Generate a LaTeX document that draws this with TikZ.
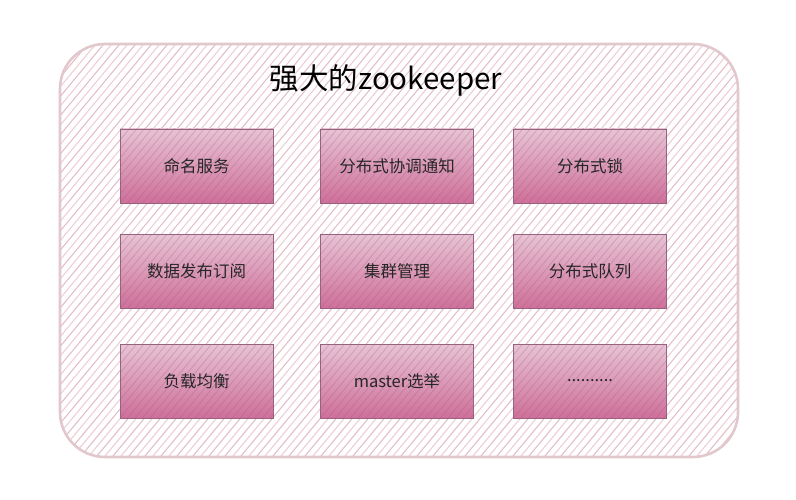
\documentclass[tikz,border=0pt]{standalone}
\usepackage{fontspec}
\setmainfont{Noto Sans CJK SC}
\usetikzlibrary{calc}
\definecolor{hatchA}{RGB}{236,204,212}
\definecolor{hatchB}{RGB}{226,186,198}
\definecolor{outerline}{RGB}{226,200,204}
\definecolor{boxline}{RGB}{150,98,128}
\definecolor{boxtop}{RGB}{230,196,212}
\definecolor{boxbot}{RGB}{206,112,154}
\definecolor{boxhatchc}{RGB}{180,80,125}
\tikzset{
  hatch/.style={line width=1pt},
  boxhatch/.style={line width=0.8pt, draw=boxhatchc, opacity=0.3},
  box/.style={draw=boxline, line width=0.8pt, minimum width=153, minimum height=74,
    top color=boxtop, bottom color=boxbot, font=\fontsize{16.5}{19}\selectfont, text=black!85,
    path picture={
      \foreach \i in {-14,...,22}{
        \draw[boxhatch] ($(path picture bounding box.south west)+(\i*7.5,0)$) -- ++(75,-90);
      }
    }},
  title/.style={font=\fontsize{29.5}{34}\selectfont, text=black}
}
\begin{document}
\begin{tikzpicture}[x=1pt,y=-1pt]
\useasboundingbox[fill=white] (0,0) rectangle (796,500);
\begin{scope}
  \clip[rounded corners=45] (60,44) rectangle (738,457);
  \foreach \i in {0,...,135}{
    \pgfmathsetmacro{\c}{mod(\i,2)}
    \ifdim\c pt<0.5pt
      \draw[hatch,draw=hatchA] (\i*8-300,462) -- ++(352,-423);
    \else
      \draw[hatch,draw=hatchB] (\i*8-300,462) -- ++(352,-423);
    \fi
  }
\end{scope}
\draw[outerline, line width=2.6pt, rounded corners=45] (60,44) rectangle (738,457);
\node[title] (t) at (386,80) {强大的zookeeper};
\node[box] (a1) at (196.5,166) {命名服务};
\node[box] (a2) at (397,166) {分布式协调通知};
\node[box] (a3) at (590,166) {分布式锁};
\node[box] (b1) at (196.5,271.5) {数据发布订阅};
\node[box] (b2) at (397,271.5) {集群管理};
\node[box] (b3) at (590,271.5) {分布式队列};
\node[box] (c1) at (196.5,381) {负载均衡};
\node[box] (c2) at (397,381) {master选举};
\node[box] (c3) at (590,381) {..........};
\end{tikzpicture}
\end{document}
